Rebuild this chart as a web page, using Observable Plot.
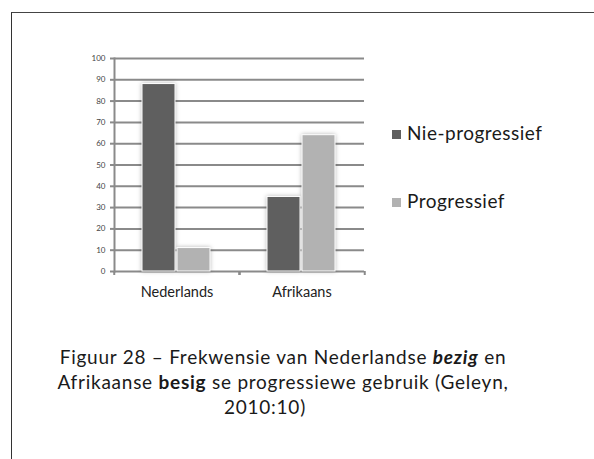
<!DOCTYPE html>
<html>
<head>
<meta charset="utf-8">
<script src="https://cdn.jsdelivr.net/npm/d3@7"></script>
<script src="https://cdn.jsdelivr.net/npm/@observablehq/plot@0.6"></script>
<style>
  html, body { margin: 0; padding: 0; background: #fff; }
  #page { position: relative; width: 594px; height: 459px; overflow: hidden; background: #fff; font-family: Lato, "Open Sans", sans-serif; color: #1a1a1a; }
  #box { position: absolute; left: 11px; top: 12px; width: 640px; height: 500px; border-left: 1.5px solid #333; border-top: 1.5px solid #444; }
  #chart { position: absolute; left: 0; top: 0; }
  .chart g[aria-label="bar"] { filter: drop-shadow(0 0 2px rgba(0,0,0,0.28)); }
  .leg-sw { position: absolute; width: 9px; height: 9px; }
  .leg-tx { position: absolute; font-size: 19px; letter-spacing: 0.5px; line-height: 20px; white-space: nowrap; }
  .cap { position: absolute; left: 11px; width: 544px; text-align: center; font-size: 19px; letter-spacing: 0.75px; line-height: 25px; white-space: nowrap; }
</style>
</head>
<body>
<div id="page">
  <div id="box"></div>
  <div id="chart"></div>
  <div id="legend"></div>
  <div id="caption"></div>
</div>
<script>
// ---- data ----
const groups = ["Nederlands", "Afrikaans"];
const series = ["Nie-progressief", "Progressief"];
const nieProgressief = [88, 35];
const progressief = [11, 64];
const yTicks = [0, 10, 20, 30, 40, 50, 60, 70, 80, 90, 100];
const colors = ["#5f5f5f", "#b2b2b2"];

const data = groups.flatMap((g, i) => [
  {group: g, series: series[0], value: nieProgressief[i]},
  {group: g, series: series[1], value: progressief[i]}
]);

// ---- layout ----
const W = 380, H = 310, ML = 113, MR = 16, MT = 58, MB = 39;
const fxBand = (W - ML - MR) / groups.length;
const axisGray = "#8a8a8a";

const chart = Plot.plot({
  width: W, height: H,
  marginLeft: ML, marginRight: MR, marginTop: MT, marginBottom: MB,
  className: "chart",
  style: {fontFamily: "Lato, 'Open Sans', sans-serif", background: "transparent", overflow: "visible"},
  fx: {domain: groups, padding: 0, axis: null, label: null},
  x: {domain: series, paddingInner: 0.056, paddingOuter: 0.78, axis: null, label: null},
  y: {domain: [0, 100], axis: null, label: null},
  color: {domain: series, range: colors},
  marks: [
    Plot.gridY(yTicks, {stroke: axisGray, strokeWidth: 2, strokeOpacity: 1}),
    Plot.frame({anchor: "left", facetAnchor: "left", stroke: axisGray, strokeWidth: 2}),
    Plot.axisY(yTicks, {tickSize: 4, tickPadding: 5, stroke: axisGray, strokeWidth: 2, fill: "#444", fontSize: 8, tickFormat: d => d, label: null}),
    Plot.axisFx({anchor: "bottom", tickSize: 4, dx: -fxBand / 2, stroke: axisGray, strokeWidth: 2, tickFormat: () => "", label: null}),
    Plot.axisFx({anchor: "bottom", tickSize: 4, dx: fxBand / 2, stroke: axisGray, strokeWidth: 2, tickFormat: () => "", label: null}),
    Plot.axisFx({anchor: "bottom", tickSize: 0, tickPadding: 15.4, fontSize: 14.5, fill: "#222", label: null}),
    Plot.barY(data, {fx: "group", x: "series", y: "value", fill: "series", stroke: "white", strokeWidth: 1})
  ]
});
document.getElementById("chart").appendChild(chart);

// ---- legend ----
const legend = document.getElementById("legend");
const legendTops = [122.6, 190.6];
series.forEach((s, i) => {
  const sw = document.createElement("div");
  sw.className = "leg-sw";
  sw.style.left = "392px";
  sw.style.top = (legendTops[i] + 7.5) + "px";
  sw.style.background = colors[i];
  legend.appendChild(sw);
  const tx = document.createElement("div");
  tx.className = "leg-tx";
  tx.style.left = "407px";
  tx.style.top = legendTops[i] + "px";
  tx.textContent = s;
  legend.appendChild(tx);
});

// ---- caption ----
const captionLines = [
  'Figuur 28 – Frekwensie van Nederlandse <b><i>bezig</i></b> en',
  'Afrikaanse <b>besig</b> se progressiewe gebruik (Geleyn,',
  '2010:10)'
];
const cap = document.getElementById("caption");
captionLines.forEach((html, i) => {
  const d = document.createElement("div");
  d.className = "cap";
  d.style.top = (344.4 + i * 25) + "px";
  if (i === 2) d.style.paddingRight = "36px", d.style.width = "508px";
  d.innerHTML = html;
  cap.appendChild(d);
});
</script>
</body>
</html>
